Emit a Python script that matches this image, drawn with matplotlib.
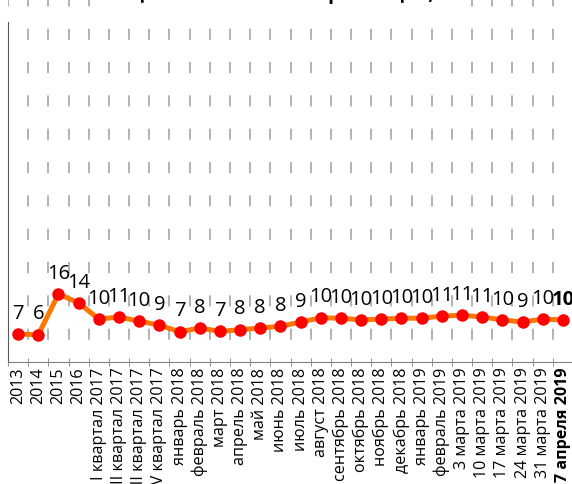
import matplotlib
matplotlib.use("Agg")
import matplotlib.pyplot as plt
from matplotlib import font_manager
import numpy as np

plt.rcParams['font.family'] = ['Open Sans', 'DejaVu Sans']
plt.rcParams['lines.scale_dashes'] = False

installed = {f.name for f in font_manager.fontManager.ttflist}
narrow = "Liberation Sans Narrow" if "Liberation Sans Narrow" in installed else "Open Sans"

# подписи категорий
labels = ["2013", "2014", "2015", "2016",
          "I квартал 2017", "II квартал 2017", "III квартал 2017", "IV квартал 2017",
          "январь 2018", "февраль 2018", "март 2018", "апрель 2018", "май 2018",
          "июнь 2018", "июль 2018", "август 2018", "сентябрь 2018", "октябрь 2018",
          "ноябрь 2018", "декабрь 2018", "январь 2019", "февраль 2019",
          "3 марта 2019", "10 марта 2019", "17 марта 2019", "24 марта 2019",
          "31 марта 2019", "7 апреля 2019"]
# значения (по картинке)
values = [6.6, 6.4, 16.0, 13.9,
          10.1, 10.6, 9.6, 8.7,
          7.1, 8.0, 7.2, 7.6, 8.0,
          8.4, 9.4, 10.4, 10.3, 9.9,
          10.1, 10.3, 10.3, 10.8,
          11.0, 10.6, 9.9, 9.4,
          10.1, 9.9]

x = np.arange(len(labels))

fig = plt.figure(figsize=(5.72, 4.84), dpi=100)
ax = fig.add_axes([8 / 572, 122 / 484, 565 / 572, 365.5 / 484])

ax.plot(x, values, color="#FF7700", lw=3.6, zorder=2)
ax.plot(x, values, "o", color="#FF0000", ms=9, mec="none", zorder=3)

for i, v in enumerate(values):
    bold = (i == len(values) - 1)
    ax.annotate(f"{v:.0f}", (i, v), xytext=(0, 7.5), textcoords="offset points",
                ha="center", va="bottom", fontsize=14.5, family=[narrow, "DejaVu Sans"],
                fontweight="bold" if bold else "normal", color="black")

ax.set_xlim(-0.5, len(labels) - 0.5)
ax.set_ylim(0, 86)

ax.set_xticks(x)
ax.set_xticklabels(labels, rotation=90, fontsize=11.6)
ax.get_xticklabels()[-1].set_fontweight("bold")
ax.set_xticks(np.arange(len(labels) + 1) - 0.5, minor=True)
ax.tick_params(axis="x", which="major", length=0, pad=4)
ax.tick_params(axis="x", which="minor", length=6, direction="inout", color="#808080")
ax.set_yticks([])

ax.grid(True, axis="x", which="minor", color="#A6A6A6", lw=1.2,
        linestyle=(8, (8, 16)))
ax.set_axisbelow(True)

for s in ["top", "right"]:
    ax.spines[s].set_visible(False)
ax.spines["left"].set_bounds(0, 80)
ax.spines["left"].set_color("#595959")
ax.spines["bottom"].set_color("#808080")

fig.text(0.5, 1.003, "Оценка населением роста цен, %", ha="center", va="baseline",
         fontsize=14, fontweight="bold",
         bbox=dict(facecolor="white", edgecolor="none", pad=5))

fig.savefig("out.png", dpi=100)
